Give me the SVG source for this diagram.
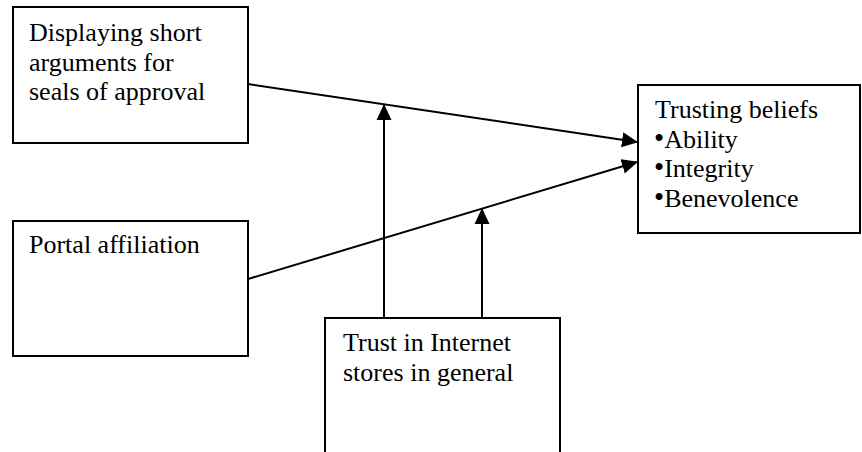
<svg xmlns="http://www.w3.org/2000/svg" width="862" height="452" viewBox="0 0 862 452">
<style>
.box{fill:#fff;stroke:#000;stroke-width:2}
.t{font-family:"Liberation Serif","Times New Roman",serif;font-size:26px;fill:#000}
.b{font-size:29px}
.c{stroke:#000;stroke-width:2;fill:none}
</style>
<defs>
<marker id="ah" markerUnits="userSpaceOnUse" markerWidth="16" markerHeight="16" viewBox="0 0 16 16" refX="15" refY="8" orient="auto">
<path d="M0,0.5 L16,8 L0,15.5 Z" fill="#000"/>
</marker>
</defs>
<rect width="862" height="452" fill="#fff"/>
<g id="n1">
<rect class="box" x="13" y="7" width="235" height="136"/>
<text class="t" x="29" y="41">Displaying short</text>
<text class="t" x="29" y="70.5">arguments for</text>
<text class="t" x="29" y="100">seals of approval</text>
</g>
<g id="n2">
<rect class="box" x="13" y="221" width="235" height="135"/>
<text class="t" x="29" y="253">Portal affiliation</text>
</g>
<g id="n3">
<rect class="box" x="638" y="85" width="222" height="148"/>
<text class="t" x="655" y="118">Trusting beliefs</text>
<text class="t" x="654" y="147.5"><tspan class="b">•</tspan>Ability</text>
<text class="t" x="654" y="177"><tspan class="b">•</tspan>Integrity</text>
<text class="t" x="654" y="206.5"><tspan class="b">•</tspan>Benevolence</text>
</g>
<g id="n4">
<rect class="box" x="325" y="318" width="235" height="140"/>
<text class="t" x="343" y="351">Trust in Internet</text>
<text class="t" x="343" y="380.5">stores in general</text>
</g>
<g id="connectors">
<line class="c" x1="248" y1="84" x2="637" y2="142" marker-end="url(#ah)"/>
<line class="c" x1="248" y1="279" x2="637" y2="162" marker-end="url(#ah)"/>
<line class="c" x1="384" y1="318" x2="384" y2="105" marker-end="url(#ah)"/>
<line class="c" x1="482" y1="318" x2="482" y2="209" marker-end="url(#ah)"/>
</g>
</svg>
